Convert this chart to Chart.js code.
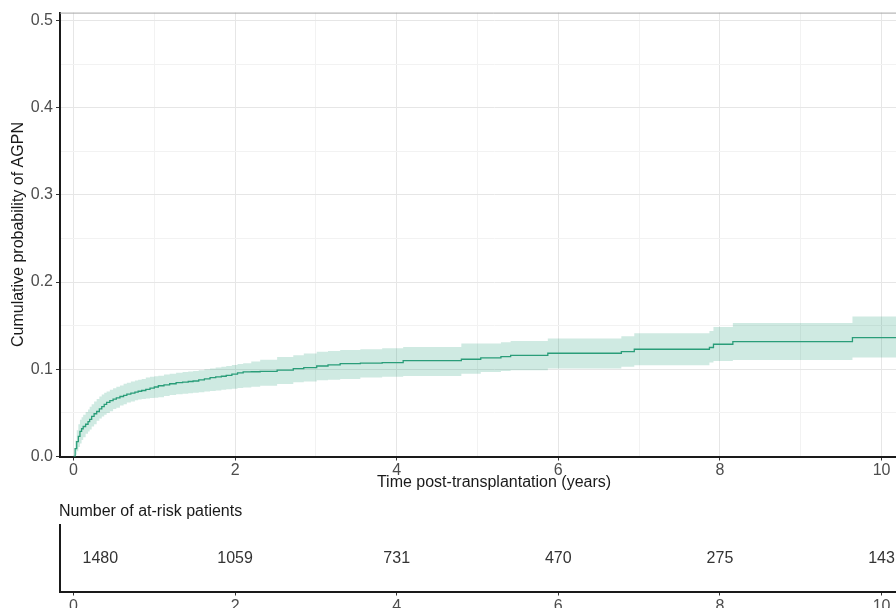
<!DOCTYPE html>
<html>
<head>
<meta charset="utf-8">
<title>Cumulative probability of AGPN</title>
<script src="https://cdn.jsdelivr.net/npm/chart.js@4.4.1/dist/chart.umd.min.js"></script>
<style>
  html, body { margin: 0; padding: 0; background: #fff; overflow: hidden; }
  body { width: 896px; height: 608px; position: relative; }
  #main { position: absolute; left: 0; top: 0; }
  #risk { position: absolute; left: 0; top: 490px; }
</style>
</head>
<body>
<canvas id="main" width="930" height="491"></canvas>
<canvas id="risk" width="930" height="130"></canvas>
<script>
// time (years) at which the step curve jumps, with estimate and 95% band
const times   = [0, 0.02, 0.04, 0.06, 0.08, 0.10, 0.12, 0.15, 0.18, 0.20, 0.225, 0.255, 0.287, 0.32, 0.35, 0.38, 0.41, 0.45, 0.49, 0.53,
                 0.575, 0.62, 0.66, 0.71, 0.76, 0.80, 0.844, 0.895, 0.947, 1.0, 1.05, 1.12, 1.19, 1.27, 1.35, 1.42, 1.48, 1.55, 1.62, 1.69,
                 1.76, 1.83, 1.89, 1.96, 2.03, 2.1, 2.2, 2.31, 2.52, 2.72, 2.85, 3.01, 3.15, 3.3, 3.55, 3.82, 4.08, 4.8, 5.04, 5.29,
                 5.41, 5.87, 6.78, 6.94, 7.87, 7.92, 8.16, 9.64, 10.6];
const cumInc  = [0, 0.009, 0.017, 0.023, 0.0287, 0.0318, 0.0344, 0.037, 0.040, 0.0425, 0.0459, 0.049, 0.0516, 0.0545, 0.0573, 0.0597, 0.062, 0.064, 0.0658, 0.0673,
                 0.0688, 0.0702, 0.0715, 0.0727, 0.0738, 0.0748, 0.0757, 0.077, 0.0784, 0.0797, 0.0811, 0.0822, 0.0834, 0.0847, 0.0853, 0.086, 0.0866, 0.0878, 0.089, 0.0905,
                 0.0912, 0.092, 0.093, 0.0945, 0.0958, 0.097, 0.0972, 0.0975, 0.099, 0.1008, 0.102, 0.1038, 0.105, 0.1065, 0.107, 0.1077, 0.110, 0.1115, 0.113, 0.1146,
                 0.116, 0.1184, 0.1203, 0.123, 0.125, 0.1287, 0.1318, 0.1364, 0.1364];
const ciUpper = [0, 0.018, 0.03, 0.037, 0.042, 0.045, 0.048, 0.051, 0.054, 0.057, 0.060, 0.063, 0.066, 0.0688, 0.071, 0.073, 0.0745, 0.0765, 0.0784, 0.080,
                 0.0815, 0.0834, 0.0845, 0.086, 0.0872, 0.088, 0.089, 0.0905, 0.0915, 0.092, 0.0925, 0.094, 0.0948, 0.096, 0.0968, 0.0975, 0.098, 0.099, 0.100, 0.101,
                 0.102, 0.103, 0.1038, 0.105, 0.106, 0.107, 0.109, 0.111, 0.114, 0.116, 0.118, 0.12, 0.121, 0.122, 0.123, 0.124, 0.1257, 0.1295, 0.1295, 0.131,
                 0.1325, 0.1353, 0.138, 0.1414, 0.144, 0.1486, 0.153, 0.1606, 0.1606];
const ciLower = [0, 0.002, 0.006, 0.011, 0.015, 0.019, 0.022, 0.026, 0.0287, 0.031, 0.0344, 0.037, 0.041, 0.0435, 0.0459, 0.048, 0.0498, 0.052, 0.0544, 0.056,
                 0.0585, 0.060, 0.062, 0.063, 0.0645, 0.0655, 0.066, 0.0665, 0.067, 0.0674, 0.068, 0.0695, 0.0705, 0.0715, 0.072, 0.0725, 0.073, 0.0737, 0.0745, 0.075,
                 0.0757, 0.0765, 0.077, 0.0777, 0.0785, 0.079, 0.080, 0.081, 0.083, 0.085, 0.086, 0.0874, 0.088, 0.089, 0.0905, 0.0915, 0.0923, 0.095, 0.097, 0.098,
                 0.099, 0.1008, 0.103, 0.1046, 0.1077, 0.1096, 0.1107, 0.1134, 0.1134];

const xGridValues = [0, 1, 2, 3, 4, 5, 6, 7, 8, 9, 10];
const yGridValues = [0, 0.05, 0.1, 0.15, 0.2, 0.25, 0.3, 0.35, 0.4, 0.45, 0.5];

const riskTimes  = [0, 2, 4, 6, 8, 10];
const riskCounts = [1480, 1059, 731, 470, 275, 143];

const X_MIN = -0.167, X_MAX = 10.575;
const LINE_COLOR = '#2a9d79';
const BAND_COLOR = 'rgba(27,158,119,0.21)';
const AXIS_COLOR = '#1a1a1a';
const TICK_TEXT = '#4d4d4d';

Chart.defaults.font.family = "'Liberation Sans', Arial, sans-serif";
Chart.defaults.font.size = 16;

function toPoints(values) {
  return times.map((t, i) => ({ x: t, y: values[i] }));
}

function isMajorY(v) {
  return Math.round(v * 100) % 10 === 0;
}

// thin grey panel border on top/right, like theme_bw
const panelBorder = {
  id: 'panelBorder',
  afterDraw(chart) {
    const { ctx, chartArea: a } = chart;
    ctx.save();
    ctx.strokeStyle = '#a6a6a6';
    ctx.lineWidth = 1;
    ctx.beginPath();
    ctx.moveTo(a.left, a.top + 0.5);
    ctx.lineTo(a.right - 0.5, a.top + 0.5);
    ctx.lineTo(a.right - 0.5, a.bottom);
    ctx.stroke();
    ctx.restore();
  }
};

new Chart(document.getElementById('main'), {
  type: 'line',
  data: {
    datasets: [
      { label: 'AGPN', data: toPoints(cumInc), borderColor: LINE_COLOR, borderWidth: 1.3,
        stepped: true, pointRadius: 0, fill: false },
      { label: 'upper', data: toPoints(ciUpper), borderColor: 'rgba(0,0,0,0)', borderWidth: 0,
        backgroundColor: BAND_COLOR, stepped: true, pointRadius: 0, fill: '+1' },
      { label: 'lower', data: toPoints(ciLower), borderColor: 'rgba(0,0,0,0)', borderWidth: 0,
        stepped: true, pointRadius: 0, fill: false }
    ]
  },
  options: {
    responsive: false,
    animation: false,
    events: [],
    layout: { padding: { top: 12.5, right: 2, left: 0, bottom: 0 } },
    plugins: { legend: { display: false }, tooltip: { enabled: false } },
    scales: {
      x: {
        type: 'linear', min: X_MIN, max: X_MAX,
        afterBuildTicks: s => { s.ticks = xGridValues.map(v => ({ value: v })); },
        afterFit: s => { s.height = 34.5; },
        ticks: { autoSkip: false, maxRotation: 0, padding: 0, color: TICK_TEXT,
                 callback: v => (v % 2 === 0 ? String(v) : '') },
        grid: { tickLength: 4, lineWidth: 1,
                color: c => (c.tick && c.tick.value % 2 === 0 ? '#e6e6e6' : '#f2f2f2'),
                tickColor: c => (c.tick && c.tick.value % 2 === 0 ? '#333' : 'rgba(0,0,0,0)') },
        border: { color: AXIS_COLOR, width: 2 },
        title: { display: true, text: 'Time post-transplantation (years)', color: AXIS_COLOR,
                 font: { size: 16, lineHeight: 1 }, padding: 0 }
      },
      y: {
        min: 0, max: 0.509,
        afterBuildTicks: s => { s.ticks = yGridValues.map(v => ({ value: v })); },
        afterFit: s => { s.width = 60; },
        ticks: { autoSkip: false, padding: 3, color: TICK_TEXT,
                 callback: v => (isMajorY(v) ? v.toFixed(1) : '') },
        grid: { tickLength: 4, lineWidth: 1,
                color: c => (c.tick && isMajorY(c.tick.value) ? '#e6e6e6' : '#f2f2f2'),
                tickColor: c => (c.tick && isMajorY(c.tick.value) ? '#333' : 'rgba(0,0,0,0)') },
        border: { color: AXIS_COLOR, width: 2 },
        title: { display: true, text: 'Cumulative probability of AGPN', color: AXIS_COLOR,
                 font: { size: 16, lineHeight: 1 }, padding: { top: 10.5, bottom: 0 } }
      }
    }
  },
  plugins: [panelBorder]
});

// numbers at risk written at each point of the table dataset
const riskLabels = {
  id: 'riskLabels',
  afterDatasetsDraw(chart) {
    const { ctx, chartArea } = chart;
    const pts = chart.getDatasetMeta(0).data;
    ctx.save();
    ctx.font = "16px 'Liberation Sans', Arial, sans-serif";
    ctx.fillStyle = '#333';
    ctx.textBaseline = 'middle';
    pts.forEach((p, i) => {
      // first count sits just right of the zero tick, as in the original table
      if (i === 0) {
        ctx.textAlign = 'left';
        ctx.fillText(String(riskCounts[i]), p.x + 9, p.y);
      } else {
        ctx.textAlign = 'center';
        ctx.fillText(String(riskCounts[i]), p.x, p.y);
      }
    });
    ctx.textAlign = 'left';
    ctx.fillStyle = AXIS_COLOR;
    ctx.fillText('Number of at-risk patients', chartArea.left - 1, 22);
    ctx.restore();
  }
};

new Chart(document.getElementById('risk'), {
  type: 'scatter',
  data: {
    datasets: [{ label: 'at risk', data: riskTimes.map(t => ({ x: t, y: 0.5 })), pointRadius: 0 }]
  },
  options: {
    responsive: false,
    animation: false,
    events: [],
    layout: { padding: { top: 35, right: 2, left: 0, bottom: 0 } },
    plugins: { legend: { display: false }, tooltip: { enabled: false } },
    scales: {
      x: {
        type: 'linear', min: X_MIN, max: X_MAX,
        afterBuildTicks: s => { s.ticks = riskTimes.map(v => ({ value: v })); },
        afterFit: s => { s.height = 28.5; },
        ticks: { autoSkip: false, maxRotation: 0, padding: 1, color: TICK_TEXT },
        grid: { drawOnChartArea: false, tickLength: 4, tickColor: '#333' },
        border: { color: AXIS_COLOR, width: 2 }
      },
      y: {
        min: 0, max: 1,
        afterFit: s => { s.width = 60; },
        ticks: { display: false },
        grid: { display: false },
        border: { color: AXIS_COLOR, width: 2 }
      }
    }
  },
  plugins: [riskLabels]
});
</script>
</body>
</html>
